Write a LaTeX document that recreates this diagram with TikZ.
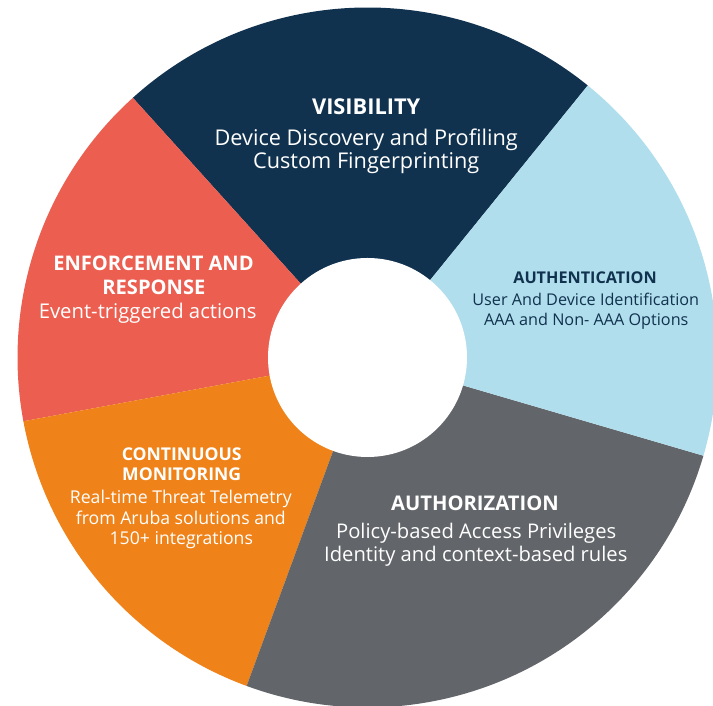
\documentclass[tikz,border=0pt]{standalone}
\usepackage{fontspec}
\setmainfont{Open Sans}
\definecolor{navy}{RGB}{17,50,79}
\definecolor{skyblue}{RGB}{176,222,236}
\definecolor{slate}{RGB}{98,101,105}
\definecolor{tangerine}{RGB}{239,131,25}
\definecolor{coral}{RGB}{235,94,80}
\begin{document}
\begin{tikzpicture}[x=1pt,y=1pt,
  wedge/.style={fill=#1},
  ttl/.style={anchor=base,inner sep=0pt,font=\bfseries\fontsize{#1}{#1}\selectfont},
  txt/.style={anchor=base,inner sep=0pt,font=\fontsize{#1}{#1}\selectfont}]
\useasboundingbox (0,0) rectangle (713,706);
\coordinate (C) at (367.5,348.5);
% five sectors of the ring
\fill[wedge=navy]      (C) -- ++(51:350)    arc[start angle=51,    end angle=132.1, radius=350] -- cycle;
\fill[wedge=coral]     (C) -- ++(132.1:350) arc[start angle=132.1, end angle=190.5, radius=350] -- cycle;
\fill[wedge=tangerine] (C) -- ++(190.5:350) arc[start angle=190.5, end angle=249.8, radius=350] -- cycle;
\fill[wedge=slate]     (C) -- ++(249.8:350) arc[start angle=249.8, end angle=343.7, radius=350] -- cycle;
\fill[wedge=skyblue]   (C) -- ++(343.7:350) arc[start angle=343.7, end angle=411,   radius=350] -- cycle;
\fill[white] (C) circle[radius=99.5];
% visibility
\node[ttl=21.8,white] (v1) at (366.2,591.5) {VISIBILITY};
\node[txt=21.7,white] (v2) at (366.2,560.5) {Device Discovery and Profiling};
\node[txt=21.7,white] (v3) at (366.2,537) {Custom Fingerprinting};
% authentication
\node[ttl=16.2,navy] (a1) at (585,422.7) {AUTHENTICATION};
\node[txt=16.2,navy] (a2) at (585.8,400.3) {User And Device Identification};
\node[txt=16.2,navy] (a3) at (586.3,380.3) {AAA and Non- AAA Options};
% enforcement and response
\node[ttl=20.1,white] (e1) at (153.5,435) {ENFORCEMENT AND};
\node[ttl=20.1,white] (e2) at (153.9,411.7) {RESPONSE};
\node[txt=20.3,white] (e3) at (147.7,387) {Event-triggered actions};
% continuous monitoring
\node[ttl=17.6,white] (c1) at (181.7,245.3) {CONTINUOUS};
\node[ttl=17.6,white] (c2) at (181.7,225.3) {MONITORING};
\node[txt=17.65,white] (c3) at (180.8,202.7) {Real-time Threat Telemetry};
\node[txt=17.65,white] (c4) at (180.8,181.7) {from Aruba solutions and};
\node[txt=17.65,white] (c5) at (181.3,161) {150+ integrations};
% authorization
\node[ttl=20.2,white] (z1) at (475,195.5) {AUTHORIZATION};
\node[txt=20.2,white] (z2) at (476.2,167.5) {Policy-based Access Privileges};
\node[txt=20.2,white] (z3) at (475.8,144.3) {Identity and context-based rules};
\end{tikzpicture}
\end{document}
